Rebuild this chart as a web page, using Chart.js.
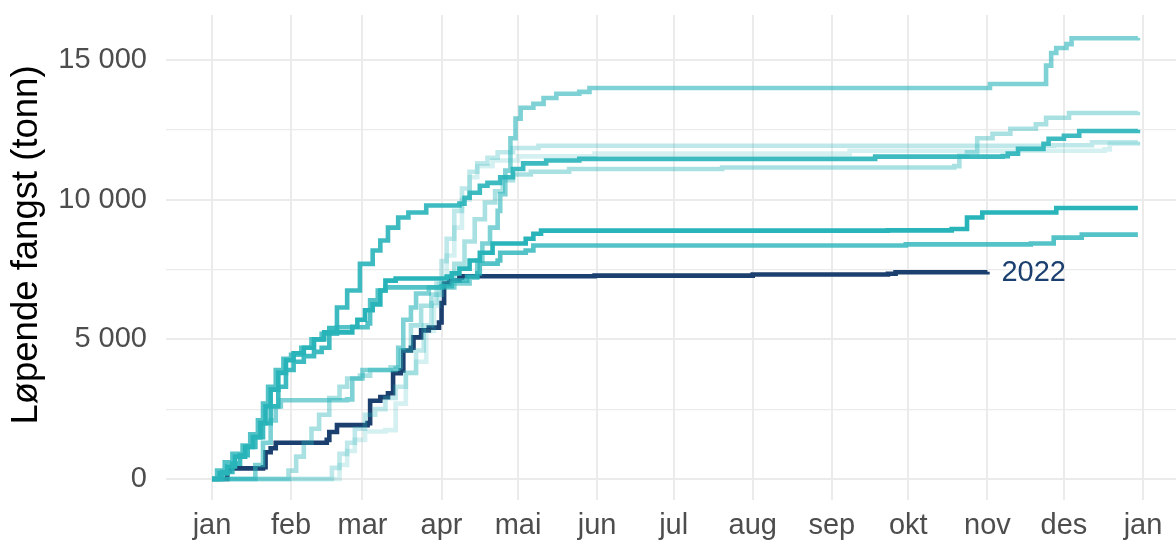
<!DOCTYPE html>
<html>
<head>
<meta charset="utf-8">
<script src="https://cdn.jsdelivr.net/npm/chart.js@4"></script>
<style>
html,body{margin:0;padding:0;background:#fff;overflow:hidden;}
canvas{display:block;}
</style>
</head>
<body>
<canvas id="c" width="1176" height="543"></canvas>
<script>
// Month tick positions (day of year) and labels
const monthDays = [0,31,59,90,120,151,181,212,243,273,304,334,365];
const monthLabels = ['jan','feb','mar','apr','mai','jun','jul','aug','sep','okt','nov','des','jan'];
const yTicks = [0,2500,5000,7500,10000,12500,15000];

// Cumulative catch (tonnes) per year: [day of year, value]
const catch2015 = [[0,0],[47,0],[50,500],[53,1000],[56,1400],[60,1700],[68,1750],[72,2700],[76,3800],[80,4200],[84,5300],[87,6200],[89,7000],[92,8000],[95,9000],[98,10000],[101,10800],[104,11200],[110,11400],[120,11550],[150,11650],[250,11750],[350,11800],[352,12000],[363,12050]];
const catch2016 = [[0,0],[44,0],[47,400],[50,900],[53,1300],[56,1800],[60,2300],[64,2500],[68,2900],[72,3300],[76,3800],[80,4600],[83,5500],[86,6300],[88,7000],[90,7800],[92,8600],[95,9600],[98,10400],[101,11000],[104,11300],[108,11500],[112,11700],[118,11850],[128,11930],[330,11950],[345,12050],[363,12080]];
const catch2017 = [[0,0],[28,0],[30,300],[33,800],[36,1300],[39,1800],[42,2300],[46,2900],[50,3300],[53,3600],[58,3700],[62,3900],[70,4000],[74,4600],[78,5500],[82,6200],[86,6600],[90,7000],[95,7700],[99,8500],[103,9300],[107,9900],[111,10300],[114,10700],[118,10900],[125,11000],[140,11100],[200,11150],[291,11200],[293,11570],[296,11700],[300,12200],[306,12360],[313,12540],[323,12700],[327,12930],[336,13100],[363,13150]];
const catch2018 = [[0,0],[14,0],[17,500],[20,1300],[23,2100],[25,2600],[27,2820],[53,2850],[55,3600],[59,3900],[72,3950],[73,4700],[75,5700],[78,6140],[80,6640],[85,6860],[95,7000],[101,7210],[104,7820],[106,8430],[109,9000],[112,9600],[113,10200],[115,11040],[117,12200],[119,12900],[121,13290],[126,13430],[130,13640],[135,13790],[144,13860],[148,14000],[304,14000],[305,14140],[325,14140],[327,14800],[329,15250],[331,15430],[335,15570],[337,15780],[363,15800]];
const catch2019 = [[0,0],[2,300],[5,600],[8,900],[12,1200],[15,1600],[18,2100],[20,2700],[22,3300],[25,3900],[28,4300],[31,4450],[35,4700],[39,5000],[43,5200],[49,5430],[61,5570],[62,6400],[65,6750],[68,6860],[90,6900],[94,7100],[100,7250],[104,7360],[105,7710],[112,7820],[113,8100],[123,8180],[126,8360],[272,8400],[321,8430],[330,8640],[341,8750],[363,8750]];
const catch2020 = [[0,0],[4,250],[8,550],[11,850],[14,1150],[17,1500],[20,2000],[23,2600],[26,3300],[29,3900],[32,4200],[36,4400],[40,4550],[43,4700],[46,5400],[49,6140],[53,6750],[58,7700],[63,8180],[66,8540],[69,9000],[73,9360],[77,9540],[84,9790],[97,9860],[99,10070],[101,10250],[105,10500],[108,10600],[113,10800],[118,11100],[122,11300],[131,11400],[144,11460],[260,11540],[310,11560],[312,11650],[316,11820],[326,12000],[328,12180],[334,12290],[340,12460],[363,12500]];
const catch2021 = [[0,0],[3,200],[6,450],[9,800],[13,1150],[16,1500],[19,2000],[21,2600],[23,3200],[26,3800],[29,4250],[32,4500],[36,4700],[40,5000],[44,5250],[55,5450],[57,5700],[60,6040],[63,6250],[66,6750],[68,7100],[72,7180],[92,7250],[94,7360],[97,7530],[101,7820],[105,8100],[110,8430],[123,8600],[126,8780],[129,8890],[265,8900],[290,8950],[296,9360],[302,9540],[331,9700],[363,9700]];
const catch2022 = [[0,0],[6,300],[7,380],[20,420],[21,960],[23,1100],[25,1300],[45,1400],[46,1680],[49,1930],[61,2000],[62,2800],[66,2930],[69,3070],[71,3790],[74,3890],[75,4600],[78,4700],[79,5070],[82,5320],[85,5420],[89,5600],[90,6300],[91,7000],[93,7100],[97,7210],[98,7260],[150,7280],[212,7320],[265,7350],[268,7400],[304,7420]];

const years = ['2015','2016','2017','2018','2019','2020','2021','2022'];
const series = [catch2015,catch2016,catch2017,catch2018,catch2019,catch2020,catch2021,catch2022];
const alphas = [0.2,0.3,0.4,0.6,0.8,0.9,1.0,1.0];

const teal = [40,180,185];
function tealA(a){return `rgba(${teal[0]},${teal[1]},${teal[2]},${a})`;}

const datasets = series.map((s,i)=>({
  label: years[i],
  data: s.map(p=>({x:p[0],y:p[1]})),
  borderColor: years[i]==='2022' ? '#1B3F6E' : tealA(alphas[i]),
  borderWidth: 4.6,
  pointRadius: 0,
  stepped: true,
  fill: false,
  tension: 0
}));

function fmt(v){ return String(v).replace(/\B(?=(\d{3})+(?!\d))/g,' '); }

const FONT = '"Liberation Sans", Arial, Helvetica, sans-serif';

const extras = {
  id:'extras',
  afterDatasetsDraw(chart){
    const ctx = chart.ctx;
    const meta = chart.getDatasetMeta(years.indexOf('2022'));
    const last = meta.data[meta.data.length-1];
    ctx.save();
    ctx.fillStyle = '#1B3F6E';
    ctx.font = `29px ${FONT}`;
    ctx.textAlign = 'left';
    ctx.textBaseline = 'middle';
    ctx.fillText('2022', last.x + 14, last.y + 1);
    ctx.restore();
  },
  afterDraw(chart){
    const ctx = chart.ctx;
    ctx.save();
    ctx.translate(37, 245);
    ctx.rotate(-Math.PI/2);
    ctx.fillStyle = '#000';
    ctx.font = `36.5px ${FONT}`;
    ctx.textAlign = 'center';
    ctx.textBaseline = 'alphabetic';
    ctx.fillText('Løpende fangst (tonn)', 0, 0);
    ctx.restore();
  }
};

new Chart(document.getElementById('c'), {
  type:'line',
  data:{datasets},
  options:{
    responsive:false,
    animation:false,
    layout:{padding:{top:15,right:0,left:0,bottom:0}},
    plugins:{legend:{display:false},tooltip:{enabled:false}},
    scales:{
      x:{
        type:'linear',
        min:-18.03, max:377.94,
        afterBuildTicks:(scale)=>{ scale.ticks = monthDays.map(v=>({value:v})); },
        afterFit:(scale)=>{ scale.height = 43; scale.paddingLeft = 0; scale.paddingRight = 0; },
        border:{display:false},
        grid:{color:'#EBEBEB', lineWidth:2, drawTicks:false},
        ticks:{
          autoSkip:false, maxRotation:0, padding:9,
          color:'#4D4D4D', font:{family:FONT,size:29},
          callback:(v,i)=>monthLabels[i]
        }
      },
      y:{
        type:'linear',
        min:-751.8, max:16611,
        afterBuildTicks:(scale)=>{ scale.ticks = yTicks.map(v=>({value:v})); },
        afterFit:(scale)=>{ scale.width = 166; scale.paddingTop = 0; scale.paddingBottom = 0; },
        border:{display:false},
        grid:{color:'#EBEBEB', lineWidth:(c)=> (c.tick && c.tick.value % 5000 === 0) ? 2 : 1.3, drawTicks:false},
        ticks:{
          padding:19, color:'#4D4D4D', font:{family:FONT,size:29},
          callback:(v)=> (v % 5000 === 0) ? fmt(v) : ''
        }
      }
    }
  },
  plugins:[extras]
});
</script>
</body>
</html>
